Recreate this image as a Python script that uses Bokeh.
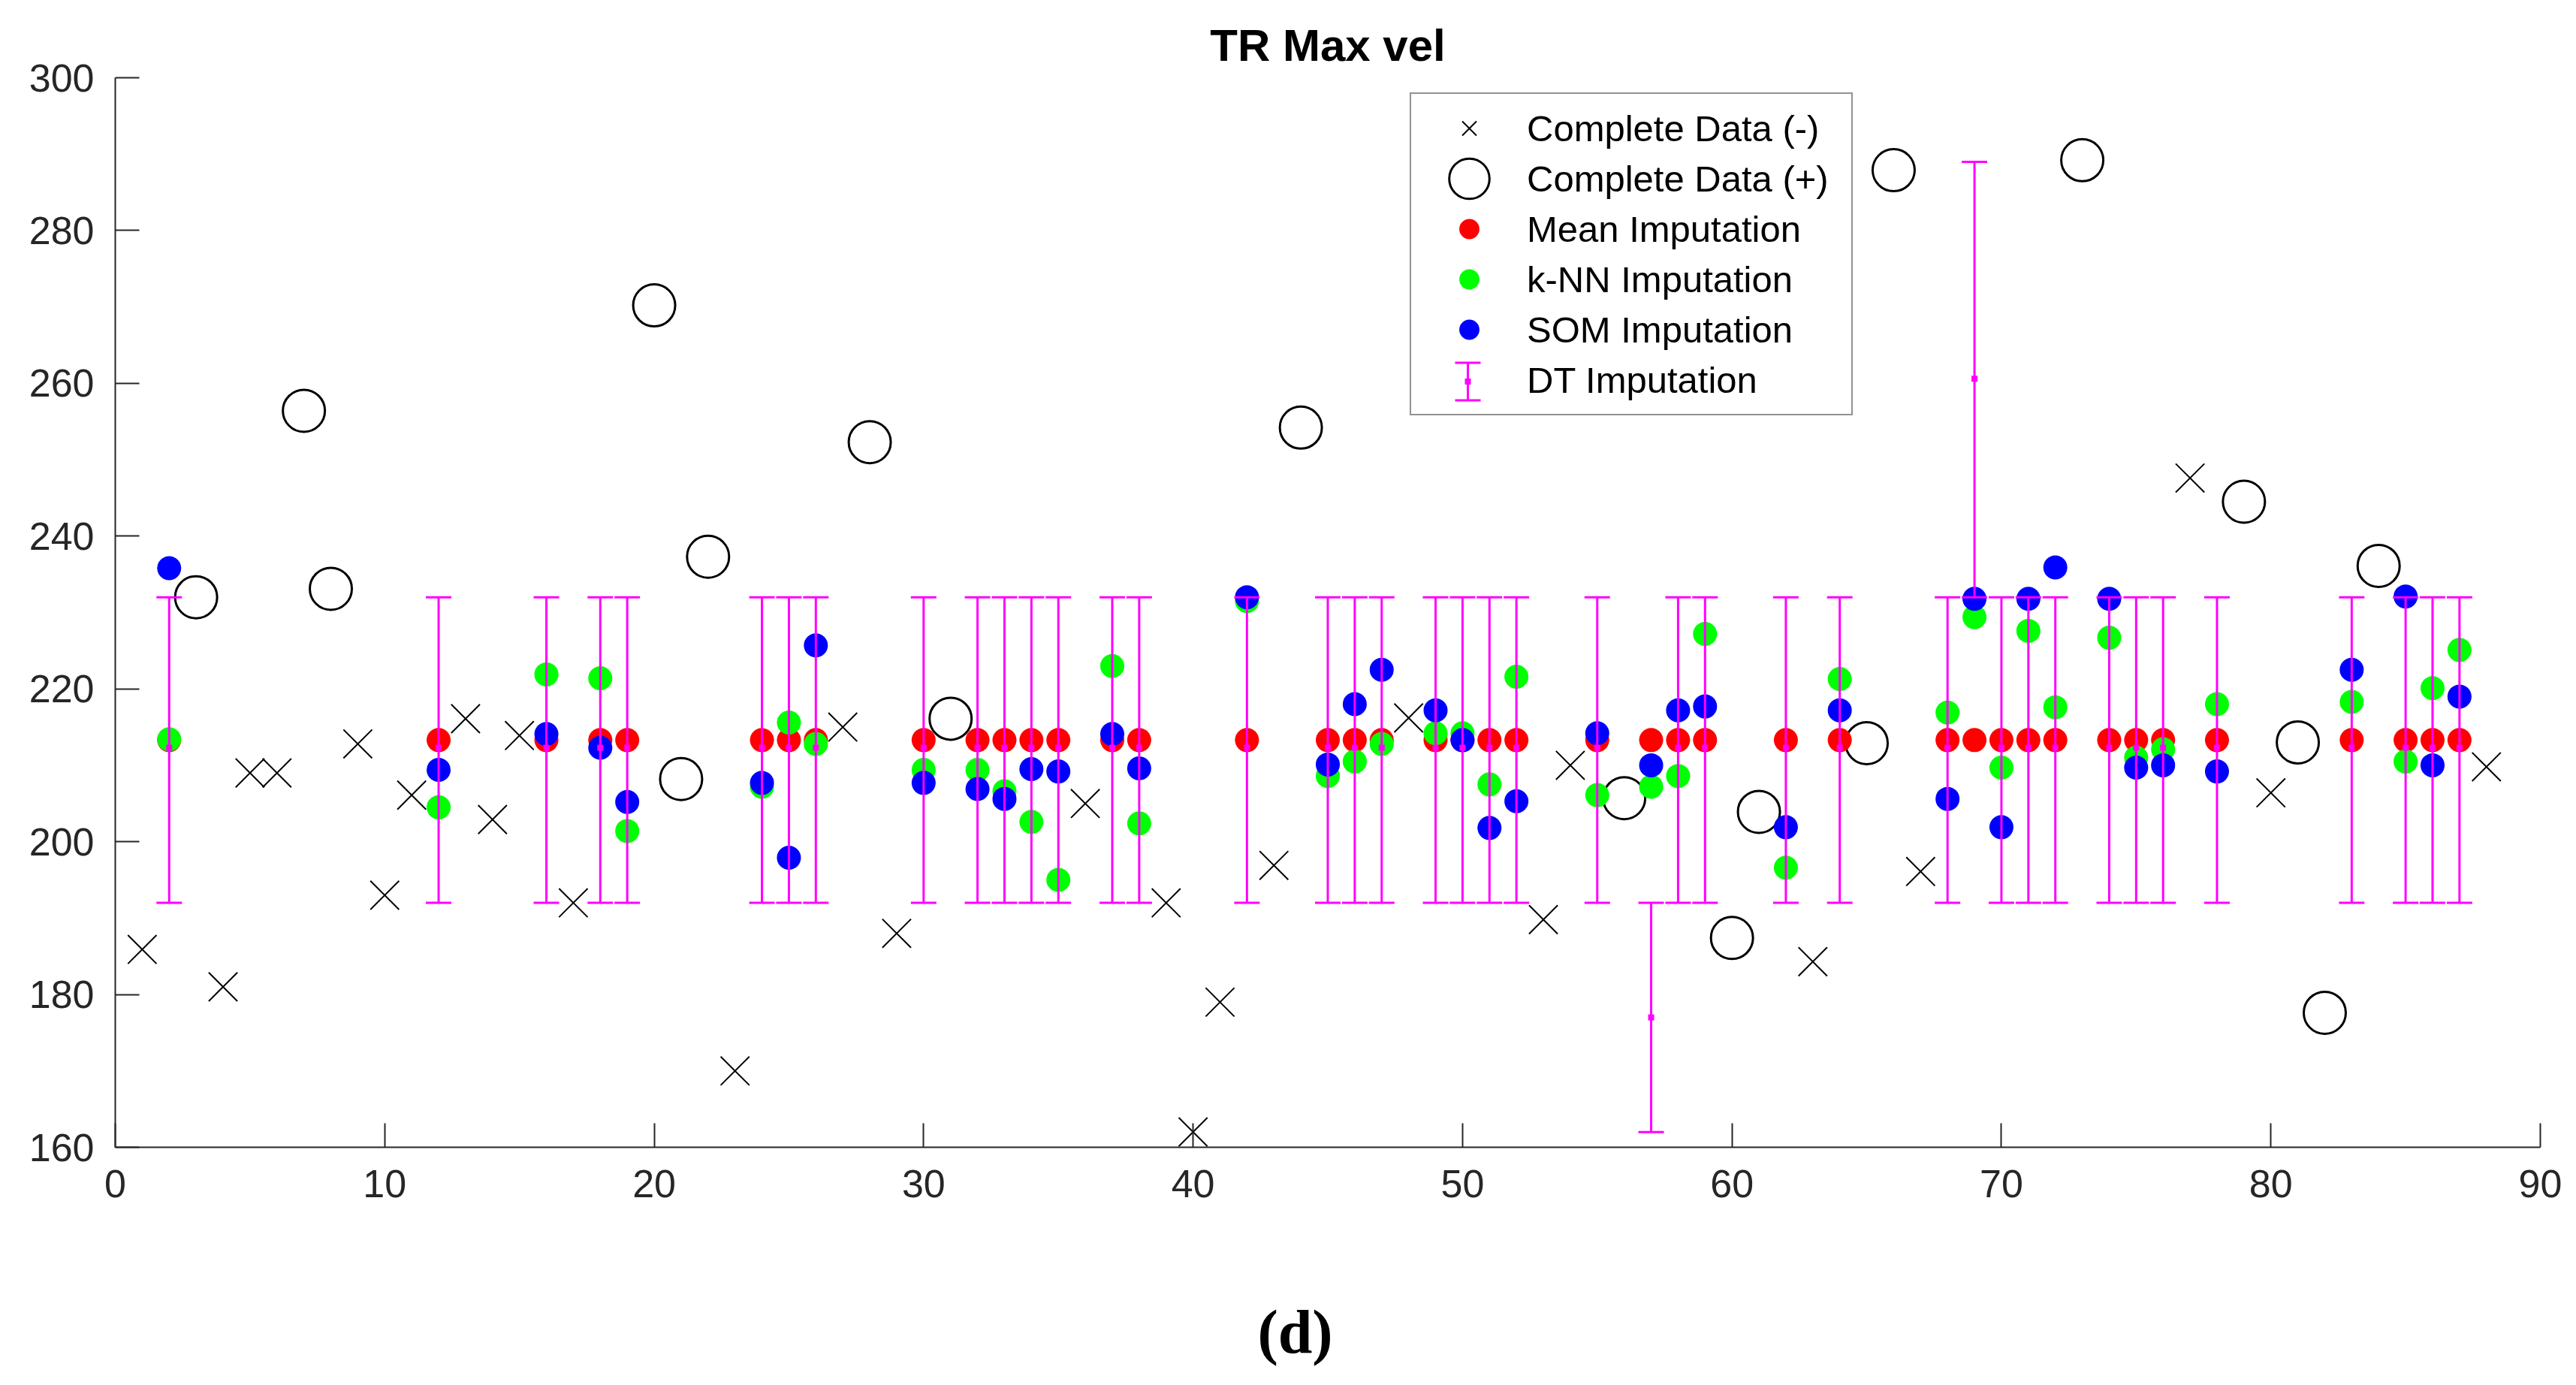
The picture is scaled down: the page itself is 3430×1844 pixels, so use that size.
from bokeh.plotting import figure
from bokeh.layouts import column
from bokeh.models import (ColumnDataSource, Whisker, TeeHead, Legend, LegendItem,
                          Label, Arrow, BoxAnnotation, FixedTicker, Range1d)
from bokeh.embed import file_html
from bokeh.resources import INLINE

# --- data ------------------------------------------------------------------
neg_x = [1, 4, 5, 6, 9, 10, 11, 13, 14, 15, 17, 23, 27, 29, 36, 39, 40, 41,
         43, 48, 53, 54, 63, 67, 77, 80, 88]
neg_y = [185.9, 181, 209, 209, 212.8, 193, 206.1, 216.1, 202.9, 213.9, 192, 170,
         215, 188, 205, 192, 162, 179, 196.9, 216.2, 189.8, 210, 184.3, 196.1,
         247.6, 206.4, 209.8]

pos_x = [3, 7, 8, 20, 21, 22, 28, 31, 44, 56, 60, 61, 65, 66, 73, 79, 81, 82, 84]
pos_y = [232, 256.4, 233.1, 270.2, 208.2, 237.3, 252.3, 216.1, 254.2, 205.7,
         187.4, 203.9, 212.9, 287.9, 289.2, 244.5, 213, 177.6, 236.1]

miss_x = [2, 12, 16, 18, 19, 24, 25, 26, 30, 32, 33, 34, 35, 37, 38, 42, 45, 46,
          47, 49, 50, 51, 52, 55, 57, 58, 59, 62, 64, 68, 69, 70, 71, 72, 74, 75,
          76, 78, 83, 85, 86, 87]
mean_y = [213.3] * len(miss_x)
knn_y = [213.4, 204.5, 221.9, 221.4, 201.4, 207.2, 215.6, 212.8, 209.4, 209.4,
         206.6, 202.6, 195.0, 223.0, 202.4, 231.5, 208.6, 210.5, 212.8, 214.2,
         214.2, 207.5, 221.6, 206.1, 207.2, 208.6, 227.2, 196.6, 221.3, 216.9,
         229.4, 209.7, 227.6, 217.6, 226.7, 211.0, 212.1, 218.0, 218.3, 210.5,
         220.1, 225.1]
som_y = [235.8, 209.4, 214.1, 212.3, 205.2, 207.7, 197.9, 225.7, 207.7, 206.9,
         205.6, 209.5, 209.2, 214.1, 209.6, 232.0, 210.1, 218.0, 222.5, 217.2,
         213.3, 201.8, 205.3, 214.2, 210.0, 217.2, 217.7, 201.9, 217.2, 205.6,
         231.8, 201.9, 231.8, 235.9, 231.8, 209.7, 210.0, 209.2, 222.5, 232.1,
         210.0, 219.0]
dt_y = [212.3] * len(miss_x)
dt_lo = [192] * len(miss_x)
dt_hi = [232] * len(miss_x)
# two missing points got a different tree leaf
dt_y[miss_x.index(57)], dt_lo[miss_x.index(57)], dt_hi[miss_x.index(57)] = 177, 162, 192
dt_y[miss_x.index(69)], dt_lo[miss_x.index(69)], dt_hi[miss_x.index(69)] = 260.6, 232, 289

x_ticks = [0, 10, 20, 30, 40, 50, 60, 70, 80, 90]
y_ticks = [160, 180, 200, 220, 240, 260, 280, 300]

MAG = "#FF00FF"
AX = "#262626"
FONT = "Liberation Sans"
W = 3422

p = figure(width=W, height=1700, x_range=(0, 90), y_range=(160, 300),
           title="TR Max vel", output_backend="svg", toolbar_location=None,
           min_border_left=153, min_border_right=40, min_border_top=103,
           min_border_bottom=173)
p.outline_line_color = None
p.grid.visible = False
p.background_fill_color = "white"

p.title.align = "center"
p.title.text_font = FONT
p.title.text_font_size = "60px"
p.title.text_font_style = "bold"
p.title.text_color = "black"
p.title.standoff = 19

for ax in (p.xaxis[0], p.yaxis[0]):
    ax.axis_line_color = AX
    ax.axis_line_width = 2
    ax.major_tick_line_color = AX
    ax.major_tick_line_width = 2
    ax.major_tick_in = 32
    ax.major_tick_out = 0
    ax.minor_tick_line_color = None
    ax.major_label_text_font = FONT
    ax.major_label_text_font_size = "52px"
    ax.major_label_text_color = AX
p.xaxis.ticker = FixedTicker(ticks=x_ticks)
p.yaxis.ticker = FixedTicker(ticks=y_ticks)
p.xaxis.major_label_standoff = 30
p.yaxis.major_label_standoff = 28

src_neg = ColumnDataSource(dict(x=neg_x, y=neg_y))
src_pos = ColumnDataSource(dict(x=pos_x, y=pos_y))
src_miss = ColumnDataSource(dict(x=miss_x, mean=mean_y, knn=knn_y, som=som_y,
                                 dt=dt_y, lo=dt_lo, hi=dt_hi))

r_neg = p.scatter("x", "y", source=src_neg, marker="x", size=54,
                  line_color="black", line_width=2)
r_pos = p.ellipse("x", "y", source=src_pos, width=56, height=56,
                  width_units="screen", height_units="screen",
                  fill_color=None, line_color="black", line_width=3)
r_mean = p.scatter("x", "mean", source=src_miss, size=32,
                   fill_color="#FF0000", line_color=None)
r_knn = p.scatter("x", "knn", source=src_miss, size=32,
                  fill_color="#00FF00", line_color=None)
r_som = p.scatter("x", "som", source=src_miss, size=32,
                  fill_color="#0000FF", line_color=None)

whisk = Whisker(source=src_miss, base="x", lower="lo", upper="hi",
                line_color=MAG, line_width=3, level="annotation",
                lower_head=TeeHead(size=34, line_color=MAG, line_width=3),
                upper_head=TeeHead(size=34, line_color=MAG, line_width=3))
p.add_layout(whisk)
r_dt = p.scatter("x", "dt", source=src_miss, marker="square", size=8,
                 fill_color=MAG, line_color=None, level="overlay")
r_dt_key = p.scatter(x=[], y=[], size=0, fill_alpha=0, line_alpha=0)

# error-bar key for the DT entry (the legend box is see-through, nothing lies under it)
leg_x, leg_y = 1724, 974
leg_pad, row_h, glyph_w = 12, 67, 130
key_x = leg_x + leg_pad + glyph_w / 2
key_y = leg_y + leg_pad + 0.5 * row_h
p.add_layout(Arrow(x_start=key_x, y_start=key_y - 25, x_end=key_x, y_end=key_y + 25,
                   start_units="screen", end_units="screen",
                   line_color=MAG, line_width=3,
                   start=TeeHead(size=34, line_color=MAG, line_width=3),
                   end=TeeHead(size=34, line_color=MAG, line_width=3)))
p.add_layout(BoxAnnotation(left=key_x - 4, right=key_x + 4, bottom=key_y - 4, top=key_y + 4,
                           left_units="screen", right_units="screen",
                           bottom_units="screen", top_units="screen",
                           fill_color=MAG, fill_alpha=1, line_color=None))

legend = Legend(items=[
    LegendItem(label="Complete Data (-)", renderers=[r_neg]),
    LegendItem(label="Complete Data (+)", renderers=[r_pos]),
    LegendItem(label="Mean Imputation", renderers=[r_mean]),
    LegendItem(label="k-NN Imputation", renderers=[r_knn]),
    LegendItem(label="SOM Imputation", renderers=[r_som]),
    LegendItem(label="DT Imputation", renderers=[r_dt_key]),
], location=(leg_x, leg_y))
legend.padding = leg_pad
legend.spacing = 0
legend.margin = 0
legend.glyph_width = glyph_w
legend.glyph_height = row_h
legend.label_height = row_h
legend.label_width = 420
legend.label_standoff = 12
legend.label_text_font = FONT
legend.label_text_font_size = "49px"
legend.label_text_color = "black"
legend.border_line_color = AX
legend.border_line_width = 2
legend.background_fill_alpha = 0
p.add_layout(legend)

# panel caption "(d)" in a strip below the chart (its frame lines up with the chart's)
cap = figure(width=W, height=136, x_range=Range1d(0, 1), y_range=Range1d(0, 1),
             x_axis_type=None, y_axis_type=None, output_backend="svg",
             toolbar_location=None, min_border=0)
cap.outline_line_color = None
cap.grid.visible = False
cap.add_layout(Label(x=1571, y=63, x_units="screen", y_units="screen", text="(d)",
                     text_font="Liberation Serif", text_font_style="bold",
                     text_font_size="82px", text_align="center",
                     text_baseline="alphabetic", text_color="black"))

open("out.html", "w").write(file_html(column(p, cap, spacing=0), INLINE))
